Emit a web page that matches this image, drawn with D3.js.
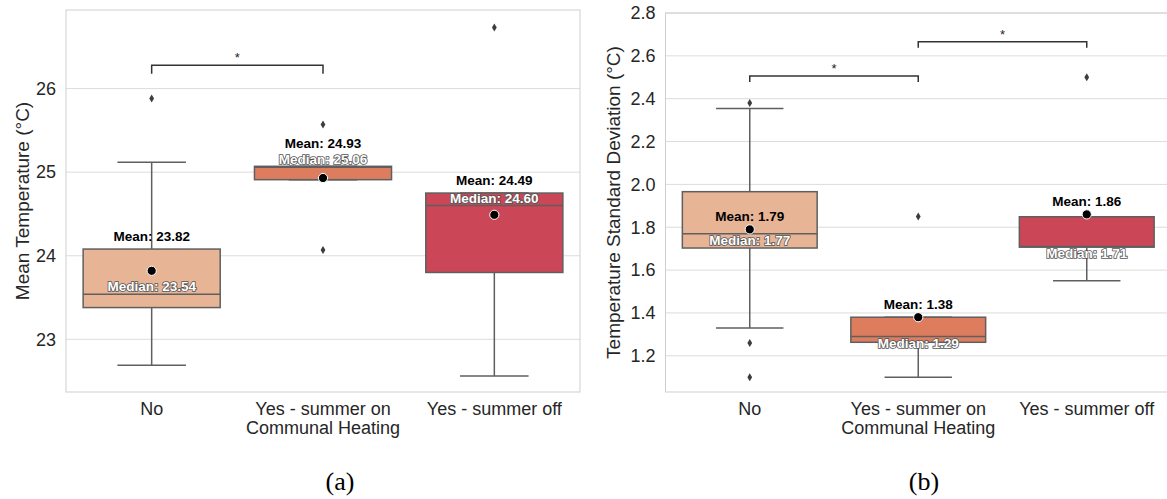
<!DOCTYPE html>
<html>
<head>
<meta charset="utf-8">
<script src="https://cdn.jsdelivr.net/npm/d3@7"></script>
<style>
  body { margin: 0; background: #fff; }
  svg { display: block; }
</style>
</head>
<body>
<svg id="chart" width="1167" height="499"></svg>
<script>
// Shared categories and box colours
const categories = ["No", "Yes - summer on", "Yes - summer off"];
const boxColors = ["#E8B496", "#DD7D5E", "#CB4656"];
const xAxisTitle = "Communal Heating";

// (a) Mean indoor temperature per group
const tempQ1 = [23.38, 24.91, 23.80];
const tempMedian = [23.54, 25.06, 24.60];
const tempQ3 = [24.08, 25.07, 24.75];
const tempWhiskerLow = [22.69, 24.91, 22.56];
const tempWhiskerHigh = [25.12, 25.07, 24.75];
const tempMean = [23.82, 24.93, 24.49];
const tempOutliers = [[25.88], [25.57, 24.07], [26.73]];
const tempTicks = [23, 24, 25, 26];
const tempBrackets = [{ from: 0, to: 1, value: 26.28, label: "*" }];

// (b) Standard deviation of indoor temperature per group
const sdQ1 = [1.703, 1.263, 1.707];
const sdMedian = [1.77, 1.29, 1.71];
const sdQ3 = [1.966, 1.38, 1.849];
const sdWhiskerLow = [1.33, 1.10, 1.55];
const sdWhiskerHigh = [2.354, 1.38, 1.849];
const sdMean = [1.79, 1.38, 1.86];
const sdOutliers = [[2.38, 1.26, 1.10], [1.85], [2.50]];
const sdTicks = [1.2, 1.4, 1.6, 1.8, 2.0, 2.2, 2.4, 2.6, 2.8];
const sdBrackets = [
  { from: 0, to: 1, value: 2.506, label: "*" },
  { from: 1, to: 2, value: 2.666, label: "*" }
];

const SANS = "'Liberation Sans', Arial, Helvetica, sans-serif";
const svg = d3.select("#chart");
svg.append("rect").attr("width", 1167).attr("height", 499).attr("fill", "#fff");

function buildRows(q1, med, q3, wlo, whi, mean, outl) {
  return categories.map((c, i) => ({
    cat: c, q1: q1[i], med: med[i], q3: q3[i],
    wlo: wlo[i], whi: whi[i], mean: mean[i], outliers: outl[i], color: boxColors[i]
  }));
}

function drawPanel(cfg) {
  const g = svg.append("g");
  const x = d3.scaleBand().domain(categories).range([cfg.left, cfg.right]).paddingInner(0).paddingOuter(0);
  const y = d3.scaleLinear().domain(cfg.domain).range([cfg.bottom, cfg.top]);
  const bw = x.bandwidth() * 0.8;
  const cx = d => x(d) + x.bandwidth() / 2;
  const fmt = d3.format(cfg.tickFormat);

  // horizontal grid
  g.append("g").selectAll("line").data(cfg.ticks).join("line")
    .attr("x1", cfg.left).attr("x2", cfg.right)
    .attr("y1", d => y(d)).attr("y2", d => y(d))
    .attr("stroke", "#dcdcdc").attr("stroke-width", 1);

  // frame
  g.append("rect")
    .attr("x", cfg.left).attr("y", cfg.top)
    .attr("width", cfg.right - cfg.left).attr("height", cfg.bottom - cfg.top)
    .attr("fill", "none").attr("stroke", "#cfcfcf").attr("stroke-width", 1);

  // axes
  const yAxis = g.append("g").attr("transform", `translate(${cfg.left},0)`)
    .call(d3.axisLeft(y).tickValues(cfg.ticks).tickFormat(fmt).tickSize(0).tickPadding(10));
  yAxis.select(".domain").remove();
  yAxis.selectAll("text").attr("font-family", SANS).attr("font-size", 18).attr("fill", "#262626");

  const xAxis = g.append("g").attr("transform", `translate(0,${cfg.bottom})`)
    .call(d3.axisBottom(x).tickSize(0).tickPadding(10));
  xAxis.select(".domain").remove();
  xAxis.selectAll("text").attr("font-family", SANS).attr("font-size", 18).attr("fill", "#262626");

  g.append("text")
    .attr("x", (cfg.left + cfg.right) / 2).attr("y", cfg.bottom + 42)
    .attr("text-anchor", "middle").attr("font-family", SANS).attr("font-size", 18)
    .attr("fill", "#262626").text(xAxisTitle);

  g.append("text")
    .attr("transform", `translate(${cfg.yTitleX},${(cfg.top + cfg.bottom) / 2}) rotate(-90)`)
    .attr("text-anchor", "middle").attr("dy", "0.35em")
    .attr("font-family", SANS).attr("font-size", 19).attr("fill", "#262626")
    .text(cfg.yTitle);

  const boxes = g.append("g").selectAll("g").data(cfg.rows).join("g");
  const edge = "#5f5f5f";

  // whiskers
  boxes.append("line")
    .attr("x1", d => cx(d.cat)).attr("x2", d => cx(d.cat))
    .attr("y1", d => y(d.whi)).attr("y2", d => y(d.q3))
    .attr("stroke", edge).attr("stroke-width", 1.5);
  boxes.append("line")
    .attr("x1", d => cx(d.cat)).attr("x2", d => cx(d.cat))
    .attr("y1", d => y(d.q1)).attr("y2", d => y(d.wlo))
    .attr("stroke", edge).attr("stroke-width", 1.5);
  ["whi", "wlo"].forEach(k => {
    boxes.append("line")
      .attr("x1", d => cx(d.cat) - bw / 4).attr("x2", d => cx(d.cat) + bw / 4)
      .attr("y1", d => y(d[k])).attr("y2", d => y(d[k]))
      .attr("stroke", edge).attr("stroke-width", 1.5);
  });

  // boxes
  boxes.append("rect")
    .attr("x", d => cx(d.cat) - bw / 2).attr("width", bw)
    .attr("y", d => y(d.q3)).attr("height", d => y(d.q1) - y(d.q3))
    .attr("fill", d => d.color).attr("stroke", edge).attr("stroke-width", 1.5);
  boxes.append("line")
    .attr("x1", d => cx(d.cat) - bw / 2).attr("x2", d => cx(d.cat) + bw / 2)
    .attr("y1", d => y(d.med)).attr("y2", d => y(d.med))
    .attr("stroke", edge).attr("stroke-width", 1.5);

  // outliers (thin diamonds)
  boxes.each(function (d) {
    d3.select(this).selectAll("path.out").data(d.outliers).join("path")
      .attr("class", "out")
      .attr("d", v => {
        const px = cx(d.cat), py = y(v);
        return `M${px},${py - 4}L${px + 2.4},${py}L${px},${py + 4}L${px - 2.4},${py}Z`;
      })
      .attr("fill", "#3d3d3d");
  });

  // mean markers
  boxes.append("circle")
    .attr("cx", d => cx(d.cat)).attr("cy", d => y(d.mean)).attr("r", 4.6)
    .attr("fill", "#000").attr("stroke", "#fff").attr("stroke-width", 1);

  // median labels
  boxes.append("text")
    .attr("x", d => cx(d.cat)).attr("y", d => cfg.medianLabelY(d, y))
    .attr("text-anchor", "middle").attr("font-family", SANS).attr("font-size", 13.5)
    .attr("font-weight", "bold").attr("fill", "#fff")
    .attr("stroke", "#555").attr("stroke-width", 1.6).attr("paint-order", "stroke")
    .text(d => `Median: ${d.med.toFixed(2)}`);

  // mean labels
  boxes.append("text")
    .attr("x", d => cx(d.cat)).attr("y", d => cfg.meanLabelY(d, y))
    .attr("text-anchor", "middle").attr("font-family", SANS).attr("font-size", 13.5)
    .attr("font-weight", "bold").attr("fill", "#000")
    .text(d => `Mean: ${d.mean.toFixed(2)}`);

  // significance brackets
  const br = g.append("g").selectAll("g").data(cfg.brackets).join("g");
  br.append("path")
    .attr("d", d => {
      const x1 = cx(categories[d.from]), x2 = cx(categories[d.to]), yy = y(d.value);
      return `M${x1},${yy + cfg.bracketDrop}V${yy}H${x2}V${yy + cfg.bracketDrop}`;
    })
    .attr("fill", "none").attr("stroke", "#333").attr("stroke-width", 1.5);
  br.append("text")
    .attr("x", d => (cx(categories[d.from]) + cx(categories[d.to])) / 2)
    .attr("y", d => y(d.value) - 3)
    .attr("text-anchor", "middle").attr("font-family", SANS).attr("font-size", 13)
    .attr("fill", "#222").text(d => d.label);

  // sub-figure caption
  svg.append("text")
    .attr("x", cfg.captionX).attr("y", 490)
    .attr("text-anchor", "middle")
    .attr("font-family", "'Liberation Serif', 'Times New Roman', serif")
    .attr("font-size", 26).attr("fill", "#000").text(cfg.caption);
}

drawPanel({
  left: 66, right: 580, top: 10, bottom: 392,
  domain: [22.37, 26.94], ticks: tempTicks, tickFormat: "d",
  yTitle: "Mean Temperature (°C)", yTitleX: 22,
  rows: buildRows(tempQ1, tempMedian, tempQ3, tempWhiskerLow, tempWhiskerHigh, tempMean, tempOutliers),
  brackets: tempBrackets, bracketDrop: 8.7,
  medianLabelY: (d, y) => y(d.med) - 3,
  meanLabelY: (d, y) => Math.min(y(d.q3) - 8, y(d.med) - 3 - 16),
  caption: "(a)", captionX: 340
});

drawPanel({
  left: 665.5, right: 1171, top: 13, bottom: 392,
  domain: [1.031, 2.8], ticks: sdTicks, tickFormat: ".1f",
  yTitle: "Temperature Standard Deviation (°C)", yTitleX: 613,
  rows: buildRows(sdQ1, sdMedian, sdQ3, sdWhiskerLow, sdWhiskerHigh, sdMean, sdOutliers),
  brackets: sdBrackets, bracketDrop: 6,
  medianLabelY: (d, y) => y(d.med) + 11,
  meanLabelY: (d, y) => y(d.mean) - 8,
  caption: "(b)", captionX: 924
});
</script>
</body>
</html>
